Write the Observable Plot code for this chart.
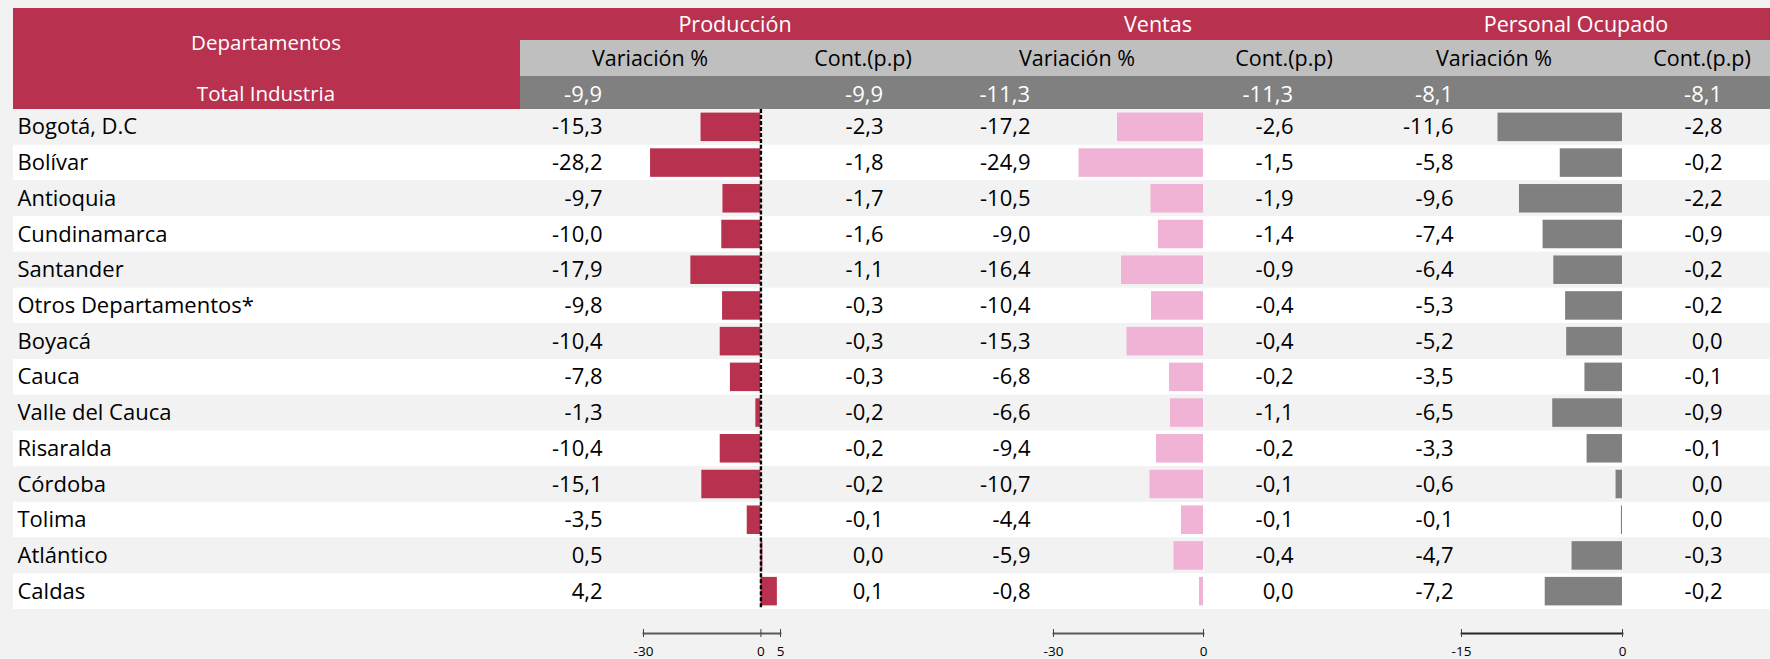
<!DOCTYPE html>
<html><head><meta charset="utf-8">
<script src="https://cdn.jsdelivr.net/npm/d3@7"></script>
<script src="https://cdn.jsdelivr.net/npm/@observablehq/plot@0.6"></script>
<style>
html,body{margin:0;padding:0;background:#f2f2f2;}
#root{position:relative;width:1770px;height:659px;overflow:hidden;background:#f2f2f2;font-family:"Open Sans",sans-serif;}
.abs{position:absolute;}
.num{position:absolute;white-space:nowrap;font-size:22px;line-height:1;color:#fff;transform:translate(-100%,-50%);}
.cen{position:absolute;white-space:nowrap;line-height:1;transform:translate(-50%,-50%);font-size:21.5px;}
svg{overflow:visible;}
</style></head><body><div id="root"></div>
<script>
// ---- data ----
const departamentos = ["Bogotá, D.C","Bolívar","Antioquia","Cundinamarca","Santander","Otros Departamentos*","Boyacá","Cauca","Valle del Cauca","Risaralda","Córdoba","Tolima","Atlántico","Caldas"];
const prodVar  = [-15.3,-28.2,-9.7,-10.0,-17.9,-9.8,-10.4,-7.8,-1.3,-10.4,-15.1,-3.5,0.5,4.2];
const prodCont = [-2.3,-1.8,-1.7,-1.6,-1.1,-0.3,-0.3,-0.3,-0.2,-0.2,-0.2,-0.1,0.0,0.1];
const ventVar  = [-17.2,-24.9,-10.5,-9.0,-16.4,-10.4,-15.3,-6.8,-6.6,-9.4,-10.7,-4.4,-5.9,-0.8];
const ventCont = [-2.6,-1.5,-1.9,-1.4,-0.9,-0.4,-0.4,-0.2,-1.1,-0.2,-0.1,-0.1,-0.4,0.0];
const persVar  = [-11.6,-5.8,-9.6,-7.4,-6.4,-5.3,-5.2,-3.5,-6.5,-3.3,-0.6,-0.1,-4.7,-7.2];
const persCont = [-2.8,-0.2,-2.2,-0.9,-0.2,-0.2,0.0,-0.1,-0.9,-0.1,0.0,0.0,-0.3,-0.2];
const totalLabel = "Total Industria";
const totalValues = [-9.9,-9.9,-11.3,-11.3,-8.1,-8.1];
const grupos = ["Producción","Ventas","Personal Ocupado"];
const subcolumnas = ["Variación %","Cont.(p.p)"];
const headerDept = "Departamentos";
const ticksProd = [-30,0,5];
const ticksVent = [-30,0];
const ticksPers = [-15,0];

// ---- layout / styles ----
const RED = "#b8324f", PINK = "#f0b2d5", GRAY = "#808080", SUB = "#bfbfbf", STRIPE = "#f2f2f2";
const FONT = "Open Sans";
const FS = 22;
const rowsTop = 109, rowsH = 500, fullH = 550;
const fmt = v => v.toFixed(1).replace(".", ",").replace(/^-0,0$/, "0,0");
const root = document.getElementById("root");

function place(el, left, top) {
  el.style.position = "absolute"; el.style.left = left + "px"; el.style.top = top + "px";
  root.appendChild(el);
}
function box(left, top, w, h, bg) {
  const d = document.createElement("div");
  d.className = "abs"; d.style.cssText = `left:${left}px;top:${top}px;width:${w}px;height:${h}px;background:${bg}`;
  root.appendChild(d);
}
function label(text, cx, cy, color, size) {
  const d = document.createElement("div");
  d.className = "cen"; d.textContent = text; d.style.left = cx + "px"; d.style.top = cy + "px"; d.style.color = color;
  if (size) d.style.fontSize = size + "px";
  root.appendChild(d);
}

// header blocks
box(13, 8, 1757, 32, RED);
box(13, 8, 507, 101, RED);
box(520, 40, 1250, 36, SUB);
box(520, 76, 1250, 33, GRAY);

label(headerDept, 266, 42, "#fff", 20.5);
label(totalLabel, 266, 93, "#fff", 20.5);
const groupCenters = [735, 1158, 1576];
grupos.forEach((g, i) => label(g, groupCenters[i], 24, "#fff"));
const subCenters = [650, 863, 1077, 1284, 1494, 1702];
subCenters.forEach((c, i) => label(subcolumnas[i % 2], c, 58, "#000"));
const rightEdges = [602, 883, 1030, 1293, 1453, 1722];
totalValues.forEach((v, i) => {
  const d = document.createElement("div");
  d.className = "num"; d.textContent = fmt(v);
  d.style.left = rightEdges[i] + "px"; d.style.top = "93px";
  root.appendChild(d);
});

// ---- stripes (background rows) ----
const yBand = {type: "band", domain: departamentos, range: [0, rowsH], padding: 0, round: false, axis: null};
const stripes = Plot.plot({
  width: 1757, height: rowsH, margin: 0,
  x: {axis: null}, y: yBand,
  color: {domain: ["par", "impar"], range: [STRIPE, "#ffffff"]},
  marks: [Plot.cell(departamentos, {y: d => d, fill: (d, i) => i % 2 ? "impar" : "par"})]
});
stripes.style.background = "transparent";
place(stripes, 13, rowsTop);

// ---- text columns ----
function textColumn(values, left, width, anchor) {
  const p = Plot.plot({
    width, height: rowsH, margin: 0,
    y: yBand, x: {axis: null},
    style: {fontFamily: FONT, background: "transparent", overflow: "visible"},
    marks: [Plot.text(departamentos, {
      y: d => d, text: (d, i) => values ? fmt(values[i]) : d,
      frameAnchor: anchor, textAnchor: anchor === "left" ? "start" : "end",
      fontSize: FS, fill: "#000"
    })]
  });
  place(p, left, rowsTop);
}
textColumn(null, 17, 400, "left");
textColumn(prodVar, rightEdges[0] - 90, 90, "right");
textColumn(prodCont, rightEdges[1] - 90, 90, "right");
textColumn(ventVar, rightEdges[2] - 90, 90, "right");
textColumn(ventCont, rightEdges[3] - 90, 90, "right");
textColumn(persVar, rightEdges[4] - 90, 90, "right");
textColumn(persCont, rightEdges[5] - 90, 90, "right");

// ---- bar columns ----
function barColumn(values, domain, x0, x1, fill, ticks, zeroRule, lineColor) {
  const left = x0 - 40, width = (x1 - x0) + 80;
  const rows = departamentos.map((d, i) => ({d, v: values[i]}));
  const marks = [
    Plot.barX(rows, {y: "d", x: "v", fill, insetTop: 3.6, insetBottom: 3.6}),
    Plot.frame({anchor: "bottom", stroke: lineColor, strokeWidth: 1.8}),
    Plot.axisX({ticks, tickSize: 8, dy: -4, tickPadding: 9, fontSize: 13.5, tickFormat: d => String(d), stroke: "#404040", fill: "#000", label: null})
  ];
  if (zeroRule) marks.push(Plot.tickX(rows, {x: d => 0, y: "d", stroke: "#000", strokeWidth: 2.4, strokeDasharray: "4,2"}));
  const p = Plot.plot({
    width, height: fullH, marginLeft: 40, marginRight: 40, marginTop: 0, marginBottom: fullH - 524,
    x: {domain, range: [40, 40 + (x1 - x0)], label: null},
    y: {...yBand, range: [0, rowsH]},
    style: {fontFamily: FONT, background: "transparent", overflow: "visible"},
    marks
  });
  place(p, left, rowsTop);
}
barColumn(prodVar, [-30, 5], 643, 780, RED, ticksProd, true, "#595959");
barColumn(ventVar, [-30, 0], 1053, 1203, PINK, ticksVent, false, "#595959");
barColumn(persVar, [-15, 0], 1461, 1622, GRAY, ticksPers, false, "#262626");
</script>
</body></html>
